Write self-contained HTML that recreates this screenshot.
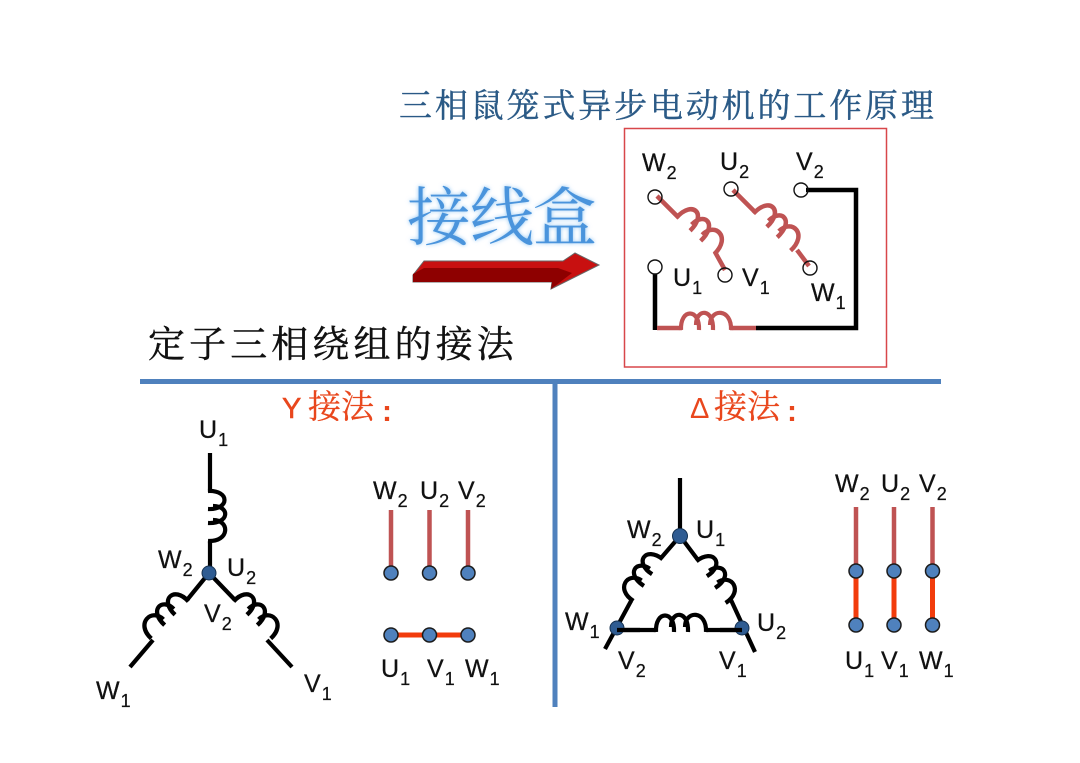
<!DOCTYPE html>
<html>
<head>
<meta charset="utf-8">
<style>
html,body{margin:0;padding:0;background:#fff;}
svg{display:block;}
.l{font-family:"Liberation Sans",sans-serif;font-size:25px;fill:#111;stroke:#111;stroke-width:.25;letter-spacing:1px;}
.l tspan{font-size:18px;}
.cjk{font-family:"Liberation Serif","Noto Serif CJK SC",serif;}
.n{fill:#4f81bd;stroke:#1c1c1c;stroke-width:1.5;}
.d{fill:#2f5c92;stroke:#14304f;stroke-width:1;}
.k{stroke:#000;stroke-width:4.200;fill:none;}
.r{stroke:#bf5353;stroke-width:4.500;fill:none;}
.o{stroke:#f23c0c;stroke-width:5;fill:none;}
.c{fill:none;stroke-width:4.200;}
</style>
</head>
<body>
<svg width="1080" height="763" viewBox="0 0 1080 763" xmlns="http://www.w3.org/2000/svg">
<defs>
<path id="coil" d="M0 2C-1 -20 19 -20 18 2M15 -3C15 -20 33 -20 32 2M29 -3C29 -20 51 -20 50 2"/>
<filter id="glow" x="-10%" y="-10%" width="120%" height="120%"><feGaussianBlur stdDeviation="2"/></filter>
</defs>
<rect width="1080" height="763" fill="#fff"/>

<text class="cjk" x="399" y="117" font-size="33" letter-spacing="2.850" fill="#2b5a86" stroke="#2b5a86" stroke-width=".4">三相鼠笼式异步电动机的工作原理</text>

<text class="cjk" x="407" y="240" font-size="64" letter-spacing="-1" fill="#8cc4f4" filter="url(#glow)">接线盒</text>
<text class="cjk" x="407" y="240" font-size="64" letter-spacing="-1" fill="#4a94dc">接线盒</text>

<polygon points="413,282 413,275 424,261 563,261 575,253 599,265 551,289 552,282" fill="#c81010" stroke="#666" stroke-width="1"/>
<polygon points="413,282 413,274 424,268 558,268 572,273 551,289 552,282" fill="#8e0000"/>

<text class="cjk" x="148" y="357" font-size="37" letter-spacing="4.100" fill="#111" stroke="#111" stroke-width=".4">定子三相绕组的接法</text>

<rect x="624.5" y="128.500" width="262" height="238.500" fill="none" stroke="#d8474a" stroke-width="1.500"/>

<!-- junction box wiring -->
<path class="k" style="stroke-width:4.500" d="M806 190H856V328H756"/>
<path class="k" style="stroke-width:4.500" d="M655 273V330"/>
<path class="r" d="M657 328H682M730 328H756"/>
<use href="#coil" class="c" stroke="#bf5353" transform="translate(681,328)" />
<path class="r" d="M657 196L679 218M715 252L725 270"/>
<use href="#coil" class="c" stroke="#bf5353" transform="translate(678,216) rotate(44) scale(1.05,1.1)"/>
<path class="r" d="M733 190L756 213M797 250L809 266"/>
<use href="#coil" class="c" stroke="#bf5353" transform="translate(755,212) rotate(45) scale(1.05,1.1)"/>
<g fill="none" stroke="#111" stroke-width="1.400">
<circle cx="655" cy="197" r="7"/>
<circle cx="731" cy="189" r="7"/>
<circle cx="801" cy="190" r="7"/>
<circle cx="655" cy="267" r="7" fill="#fff"/>
<circle cx="725" cy="275" r="7"/>
<circle cx="810" cy="268" r="7"/>
</g>
<text class="l" x="642" y="171">W<tspan dy="8">2</tspan></text>
<text class="l" x="720" y="170">U<tspan dy="8">2</tspan></text>
<text class="l" x="796" y="170">V<tspan dy="8">2</tspan></text>
<text class="l" x="673" y="286">U<tspan dy="8">1</tspan></text>
<text class="l" x="742" y="286">V<tspan dy="8">1</tspan></text>
<text class="l" x="811" y="301">W<tspan dy="8">1</tspan></text>

<!-- dividers -->
<rect x="140" y="379" width="801" height="5" fill="#4f81bd"/>
<rect x="552.500" y="381" width="5" height="326" fill="#4f81bd"/>

<text x="282" y="418" font-family="Liberation Sans,sans-serif" font-size="29" fill="#e9471d" stroke="#e9471d" stroke-width=".5">Y</text>
<text class="cjk" x="308" y="418" font-size="33" fill="#e9471d" stroke="#e9471d" stroke-width=".3">接法</text>
<text x="382" y="421" font-family="Liberation Sans,sans-serif" font-weight="bold" font-size="30" fill="#e9471d">:</text>
<text x="690" y="418" font-family="Liberation Sans,sans-serif" font-size="29" fill="#e9471d">Δ</text>
<text class="cjk" x="714" y="418" font-size="33" fill="#e9471d" stroke="#e9471d" stroke-width=".3">接法</text>
<text x="787" y="421" font-family="Liberation Sans,sans-serif" font-weight="bold" font-size="30" fill="#e9471d">:</text>

<!-- Y -->
<path class="k" d="M210 453V492M210 541V573M209 573L187 600M209 573L235 600M153 640L130 667M267 640L292 667"/>
<use href="#coil" class="c" stroke="#000" transform="translate(210,491) rotate(90)"/>
<use href="#coil" class="c" stroke="#000" transform="translate(187,600) rotate(135) scale(1.05,-1)"/>
<use href="#coil" class="c" stroke="#000" transform="translate(235,600) rotate(45) scale(1.05,1)"/>
<circle class="d" cx="209" cy="573" r="7"/>
<text class="l" x="199" y="438">U<tspan dy="8">1</tspan></text>
<text class="l" x="158" y="568">W<tspan dy="8">2</tspan></text>
<text class="l" x="227" y="576">U<tspan dy="8">2</tspan></text>
<text class="l" x="204" y="622">V<tspan dy="8">2</tspan></text>
<text class="l" x="96" y="699">W<tspan dy="8">1</tspan></text>
<text class="l" x="304" y="692">V<tspan dy="8">1</tspan></text>

<path class="r" d="M391 510V573M429.500 510V573M468 510V573"/>
<path class="o" d="M391 635H468"/>
<g class="n">
<circle cx="391" cy="573" r="7"/><circle cx="429.500" cy="573" r="7"/><circle cx="468" cy="573" r="7"/>
<circle cx="391" cy="635" r="7"/><circle cx="429.500" cy="635" r="7"/><circle cx="468" cy="635" r="7"/>
</g>
<text class="l" x="373" y="499">W<tspan dy="8">2</tspan></text>
<text class="l" x="420" y="499">U<tspan dy="8">2</tspan></text>
<text class="l" x="458" y="499">V<tspan dy="8">2</tspan></text>
<text class="l" x="381" y="677">U<tspan dy="8">1</tspan></text>
<text class="l" x="427" y="677">V<tspan dy="8">1</tspan></text>
<text class="l" x="465" y="677">W<tspan dy="8">1</tspan></text>

<!-- Delta -->
<path class="k" d="M680 478V536M680 536L661 558M631 601L605 649M680 536L698 560M731 600L755 652M617 630H656M706 630H742"/>
<use href="#coil" class="c" stroke="#000" transform="translate(661,558) rotate(125) scale(1.02,-1)"/>
<use href="#coil" class="c" stroke="#000" transform="translate(698,560) rotate(55) scale(1.02,1)"/>
<use href="#coil" class="c" stroke="#000" transform="translate(656,630)"/>
<circle class="d" cx="680" cy="536" r="7.500"/>
<circle class="d" cx="617" cy="628" r="7"/>
<circle class="d" cx="742" cy="628" r="7"/>
<path class="k" d="M617 630H640M720 630H742"/>
<text class="l" x="627" y="538">W<tspan dy="8">2</tspan></text>
<text class="l" x="696" y="538">U<tspan dy="8">1</tspan></text>
<text class="l" x="565" y="630">W<tspan dy="8">1</tspan></text>
<text class="l" x="757" y="631">U<tspan dy="8">2</tspan></text>
<text class="l" x="618" y="669">V<tspan dy="8">2</tspan></text>
<text class="l" x="719" y="669">V<tspan dy="8">1</tspan></text>

<path class="r" d="M856 507V571M894 507V571M932.500 507V571"/>
<path class="o" d="M856 571V625M894 571V625M932.500 571V625"/>
<g class="n">
<circle cx="856" cy="571" r="7"/><circle cx="894" cy="571" r="7"/><circle cx="932.500" cy="571" r="7"/>
<circle cx="856" cy="625" r="7"/><circle cx="894" cy="625" r="7"/><circle cx="932.500" cy="625" r="7"/>
</g>
<text class="l" x="835" y="492">W<tspan dy="8">2</tspan></text>
<text class="l" x="881" y="492">U<tspan dy="8">2</tspan></text>
<text class="l" x="919" y="492">V<tspan dy="8">2</tspan></text>
<text class="l" x="845" y="669">U<tspan dy="8">1</tspan></text>
<text class="l" x="881" y="669">V<tspan dy="8">1</tspan></text>
<text class="l" x="919" y="669">W<tspan dy="8">1</tspan></text>
</svg>
</body>
</html>
